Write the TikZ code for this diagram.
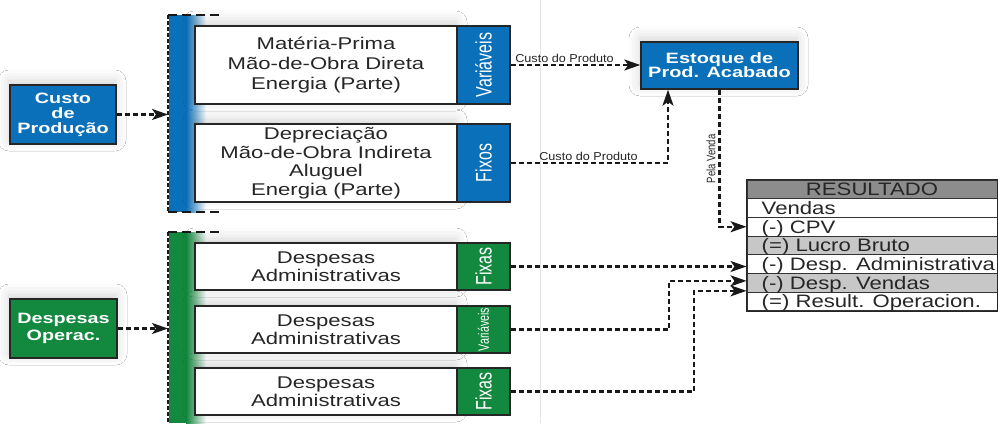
\documentclass[tikz,border=0pt]{standalone}
\usepackage{fontspec}
\setmainfont{Liberation Sans}
\newfontfamily\BoxF[FakeStretch=1.3]{Liberation Sans}
\newfontfamily\HeadF[FakeStretch=1.32]{Liberation Sans}
\newfontfamily\EstF[FakeStretch=1.33]{Liberation Sans}
\newfontfamily\TabF[FakeStretch=1.23]{Liberation Sans}
\newfontfamily\SmallF[FakeStretch=1.1]{Liberation Sans}
\usetikzlibrary{arrows.meta,shadows.blur}
\definecolor{cBlue}{RGB}{10,112,185}
\definecolor{cGreen}{RGB}{18,137,62}
\begin{document}
\begin{tikzpicture}[x=1pt,y=-1pt,
  haze/.style={blur shadow={shadow xshift=-1pt,shadow yshift=4pt,shadow blur radius=11pt,shadow opacity=18}},
  wbox/.style={draw=black!85,line width=1.5pt,fill=white,minimum width=262pt,inner sep=0pt,align=center,text=black!85,font=\BoxF\fontsize{17}{18.5}\selectfont},
  lab/.style={draw=black!85,line width=1.5pt,minimum width=53pt,inner sep=0pt},
  head/.style={draw=black!85,line width=1.5pt,inner sep=0pt,align=center,text=white},
  rot/.style={rotate=90,text=white,inner sep=0pt},
  conn/.style={draw=black!90,line width=2.2pt,dash pattern=on 5pt off 3pt},
  tip/.style={-{Stealth[length=16pt,width=11pt,inset=4pt]}},
  row/.style={draw=black!80,line width=1pt,minimum width=250pt,minimum height=18.7pt,inner sep=0pt},
  rowtxt/.style={anchor=base west,inner sep=0pt,text=black!85,font=\TabF\fontsize{18}{18}\selectfont},
  small/.style={inner sep=0pt,text=black!85,font=\SmallF\fontsize{11.5}{12}\selectfont},
  brk/.style={line width=2.6pt,draw=black!90},
]
\fill[white] (0,0) rectangle (998,423);
\useasboundingbox (0,0) rectangle (998,423);
\draw[black!10,line width=1pt] (540,0) -- (540,423);

% blue bracket
\fill[cBlue] (169,15) rectangle (186,212);
\shade[left color=cBlue,right color=white] (186,15) rectangle (206,212);
\coordinate (bt) at (168,15);
\coordinate (bb) at (168,212);
\coordinate (bin) at (168,114.5);
\draw[brk,dash pattern=on 4pt off 2pt] (bt) -- (bb);
\draw[brk,dash pattern=on 9pt off 5pt] (bt) -- ++(54,0);
\draw[brk,dash pattern=on 9pt off 5pt] (bb) -- ++(54,0);

% green bracket
\fill[cGreen] (169,232) rectangle (186,423);
\shade[left color=cGreen,right color=white] (186,232) rectangle (206,423);
\coordinate (gt) at (168,232);
\coordinate (gb) at (168,423);
\coordinate (gin) at (168,328.5);
\draw[brk,dash pattern=on 4pt off 2pt] (gt) -- (gb);
\draw[brk,dash pattern=on 9pt off 5pt] (gt) -- ++(54,0);

% left heads
\node[head,haze,fill=cBlue,minimum width=106pt,minimum height=59pt,font=\HeadF\bfseries\fontsize{15}{15}\selectfont] (cp) at (63,114.5) {Custo\\de\\Produção};
\node[head,haze,fill=cGreen,minimum width=107pt,minimum height=59pt,font=\HeadF\bfseries\fontsize{15}{16.5}\selectfont] (dop) at (63.5,328.5) {Despesas\\Operac.};

% production boxes
\node[wbox,haze,minimum height=78pt,font=\BoxF\fontsize{17}{20}\selectfont] (v1) at (326,65) {Matéria-Prima\\Mão-de-Obra Direta\\Energia (Parte)};
\node[lab,fill=cBlue,minimum height=78pt] (v1l) at (483.5,65) {};
\node[rot,font=\fontsize{16}{16}\selectfont] (v1t) at (v1l) {\scalebox{1}[1.4]{Variáveis}};
\node[wbox,haze,minimum height=78pt] (f1) at (326,163) {Depreciação\\Mão-de-Obra Indireta\\Aluguel\\Energia (Parte)};
\node[lab,fill=cBlue,minimum height=78pt] (f1l) at (483.5,163) {};
\node[rot,font=\fontsize{16}{16}\selectfont] (f1t) at (f1l) {\scalebox{1}[1.4]{Fixos}};

% expense boxes
\node[wbox,haze,minimum height=47pt] (g1) at (326,266.5) {Despesas\\Administrativas};
\node[lab,fill=cGreen,minimum height=47pt] (g1l) at (483.5,266.5) {};
\node[rot,font=\fontsize{16}{16}\selectfont] (g1t) at (g1l) {\scalebox{1}[1.4]{Fixas}};
\node[wbox,haze,minimum height=47pt] (g2) at (326,329.5) {Despesas\\Administrativas};
\node[lab,fill=cGreen,minimum height=47pt] (g2l) at (483.5,329.5) {};
\node[rot,font=\fontsize{10.7}{11}\selectfont] (g2t) at (g2l) {\scalebox{1}[1.4]{Variáveis}};
\node[wbox,haze,minimum height=47pt] (g3) at (326,391.5) {Despesas\\Administrativas};
\node[lab,fill=cGreen,minimum height=47pt] (g3l) at (483.5,391.5) {};
\node[rot,font=\fontsize{16}{16}\selectfont] (g3t) at (g3l) {\scalebox{1}[1.4]{Fixas}};

% stock
\node[head,haze,fill=cBlue,minimum width=157pt,minimum height=47pt,font=\EstF\bfseries\fontsize{15}{14}\selectfont] (est) at (719.5,65.5) {Estoque de\\Prod. Acabado};

% result table
\node[row,fill=black!45] (r1) at (872,189.35) {};
\node[row,fill=white] (r2) at (872,208.05) {};
\node[row,fill=white] (r3) at (872,226.75) {};
\node[row,fill=black!22] (r4) at (872,245.45) {};
\node[row,fill=white] (r5) at (872,264.15) {};
\node[row,fill=black!22] (r6) at (872,282.85) {};
\node[row,fill=white] (r7) at (872,301.55) {};
\draw[line width=1.8pt,black!85] (r1.north west) rectangle (r7.south east);
\node[rowtxt,anchor=base] (t1) at ([yshift=-6.3pt]r1.center) {RESULTADO};
\node[rowtxt] (t2) at ([xshift=15pt,yshift=-6.3pt]r2.west) {Vendas};
\node[rowtxt] (t3) at ([xshift=15pt,yshift=-6.3pt]r3.west) {(-) CPV};
\node[rowtxt] (t4) at ([xshift=15pt,yshift=-6.3pt]r4.west) {(=) Lucro Bruto};
\node[rowtxt] (t5) at ([xshift=15pt,yshift=-6.3pt]r5.west) {(-) Desp. Administrativa};
\node[rowtxt] (t6) at ([xshift=15pt,yshift=-6.3pt]r6.west) {(-) Desp. Vendas};
\node[rowtxt] (t7) at ([xshift=15pt,yshift=-6.3pt]r7.west) {(=) Result. Operacion.};

% connectors
\draw[conn,tip] (cp) -- (bin);
\draw[conn,tip] (dop) -- (gin);
\draw[conn,tip] (v1l.east) -- (v1l.east -| est.west);
\draw[conn,tip] (f1l.east) -| ([xshift=-51.5pt]est.south);
\draw[conn,tip] (est.south) |- (r3.west);
\draw[conn,tip] (g1l.east) -- (g1l.east -| r5.west);
\draw[conn,tip] (g2l.east) -- ++(158,0) |- ([yshift=2pt]r6.west);
\draw[conn,tip] (g3l.east) -- ++(183,0) |- ([yshift=-8pt]r6.west);

% connector labels
\node[small,anchor=base] (l1) at (564.5,62.5) {Custo do Produto};
\node[small,anchor=base] (l2) at (588.5,160) {Custo do Produto};
\node[small,rotate=90,font=\fontsize{9.5}{10}\selectfont] (l3) at (711,159) {\scalebox{1}[1.3]{Pela Venda}};
\end{tikzpicture}
\end{document}
